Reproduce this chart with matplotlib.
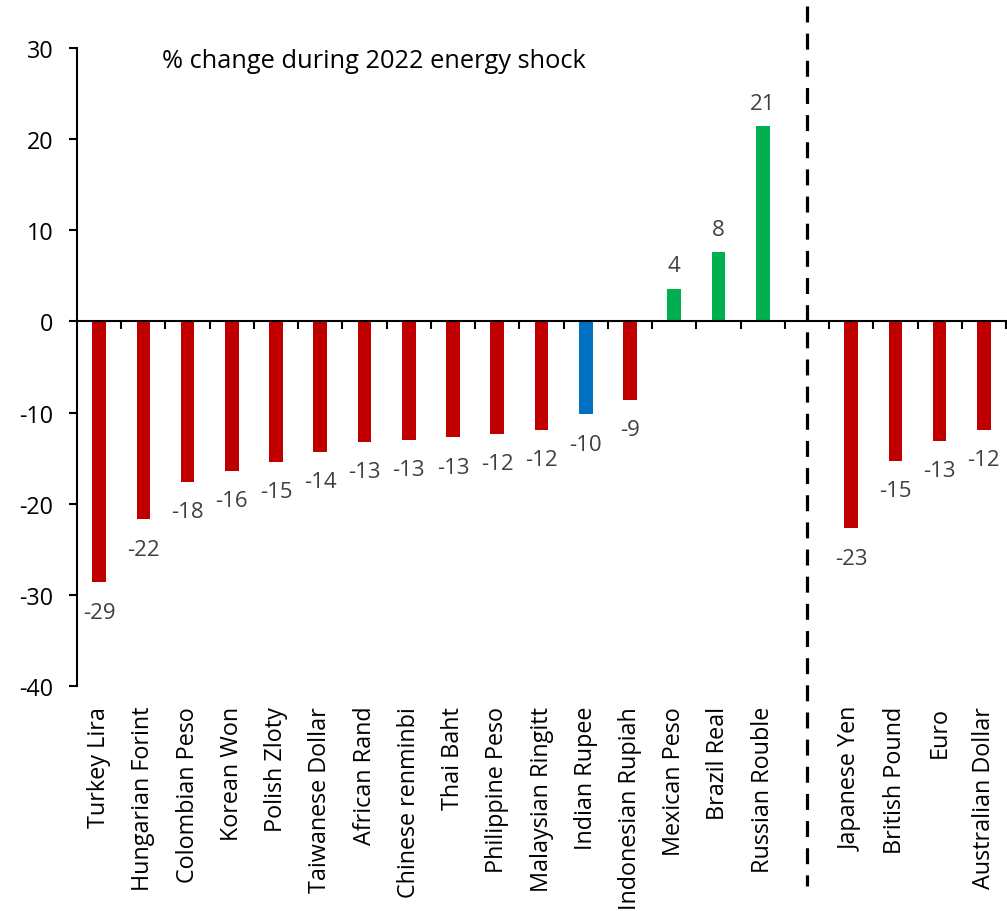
import matplotlib
matplotlib.use("Agg")
import matplotlib.pyplot as plt
import matplotlib.transforms as mtransforms
from matplotlib.lines import Line2D

plt.rcParams["font.family"] = ["Open Sans", "DejaVu Sans"]

# Emerging-market currencies, then advanced-economy currencies
em_currencies = [
    "Turkey Lira", "Hungarian Forint", "Colombian Peso", "Korean Won",
    "Polish Zloty", "Taiwanese Dollar", "African Rand", "Chinese renminbi",
    "Thai Baht", "Philippine Peso", "Malaysian Ringitt", "Indian Rupee",
    "Indonesian Rupiah", "Mexican Peso", "Brazil Real", "Russian Rouble",
]
em_change = [-28.6, -21.7, -17.6, -16.4, -15.4, -14.3, -13.2, -13.0,
             -12.7, -12.3, -11.9, -10.2, -8.6, 3.6, 7.6, 21.4]

dm_currencies = ["Japanese Yen", "British Pound", "Euro", "Australian Dollar"]
dm_change = [-22.7, -15.3, -13.1, -11.9]

highlight = "Indian Rupee"

y_ticks = [-40, -30, -20, -10, 0, 10, 20, 30]
title_text = "% change during 2022 energy shock"

RED, BLUE, GREEN = "#C00000", "#0070C0", "#00B050"

fig = plt.figure(figsize=(10.07, 9.12), dpi=100)
ax = fig.add_axes([77 / 1007, 1 - 687 / 912, 929 / 1007, 638 / 912])

# positions: EM bars, one empty slot, then DM bars
n_em = len(em_currencies)
positions = list(range(n_em)) + [n_em + 1 + i for i in range(len(dm_currencies))]
names = em_currencies + dm_currencies
values = em_change + dm_change

colors = []
for name, v in zip(names, values):
    if name == highlight:
        colors.append(BLUE)
    elif v >= 0:
        colors.append(GREEN)
    else:
        colors.append(RED)

ax.bar(positions, values, width=0.31, color=colors, zorder=2)

ax.set_xlim(-0.5, len(positions) + 0.5)
ax.set_ylim(-40, 30)
ax.set_yticks(y_ticks)
ax.set_yticklabels([str(t) for t in y_ticks])

for side in ("top", "right"):
    ax.spines[side].set_visible(False)
ax.spines["bottom"].set_position(("data", 0))
ax.spines["bottom"].set_linewidth(1.5)
ax.spines["left"].set_linewidth(1.5)
ax.spines["bottom"].set_zorder(3)

ax.set_xticks([k - 0.5 for k in range(1, len(positions) + 2)])
ax.set_xticklabels([])
ax.tick_params(axis="x", direction="out", length=6, width=1.5)
ax.tick_params(axis="y", direction="out", length=6, width=1.5,
               labelsize=16.8, pad=11)

# category names below the plotting area
trans = mtransforms.blended_transform_factory(ax.transData, ax.transAxes)
for x, name in zip(positions, names):
    ax.text(x, -0.031, name, transform=trans, rotation=90,
            ha="center", va="top", fontsize=16.8, color="black")

# value labels, above positive bars and below negative ones
for x, v in zip(positions, values):
    above = v >= 0
    ax.annotate(f"{v:.0f}", (x, v), xytext=(0, 9 if above else -14),
                textcoords="offset points", ha="center",
                va="bottom" if above else "top",
                fontsize=16, color="#404040")

# separator between emerging and advanced economies
sep = Line2D([n_em, n_em], [1.066, -0.313], transform=trans, color="black",
             linewidth=2.3, linestyle=(0, (5, 3.5)), clip_on=False, zorder=4)
ax.add_line(sep)

ax.text(0.092, 0.98, title_text, transform=ax.transAxes, ha="left",
        va="center", fontsize=18.3, color="black")

fig.savefig("out.png", dpi=100)
